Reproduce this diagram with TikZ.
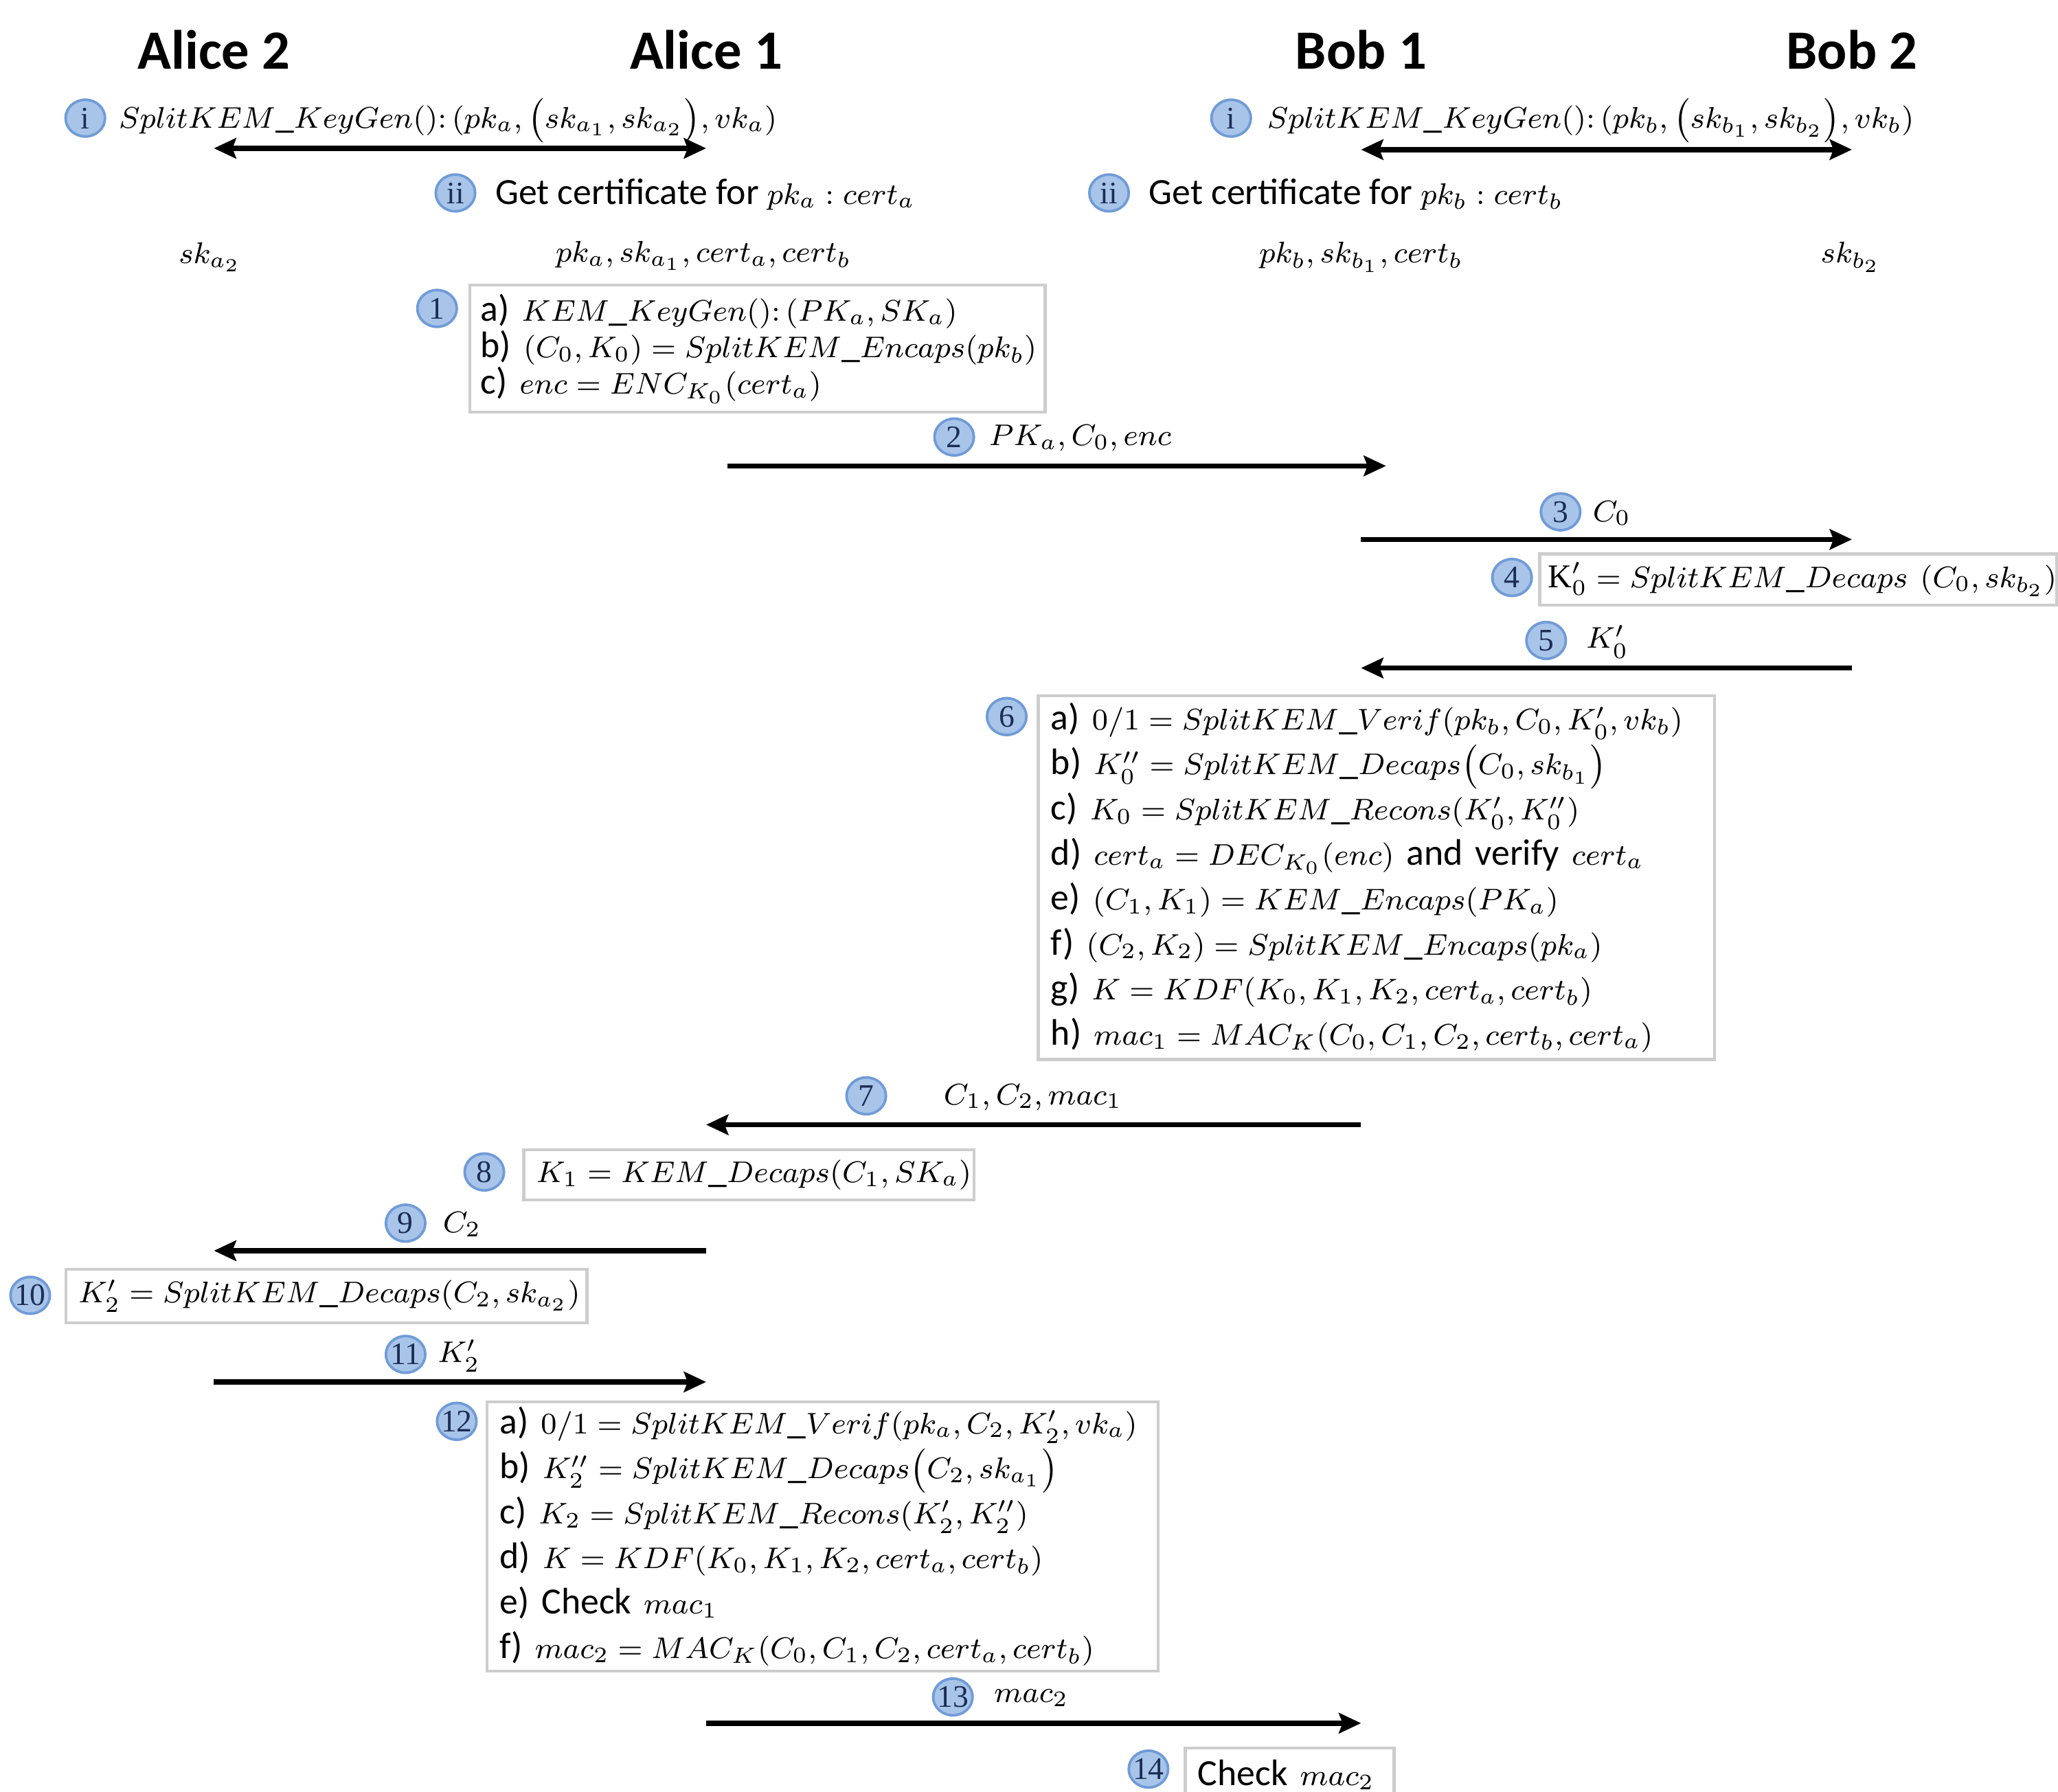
\RequirePackage{fix-cm}
\documentclass[tikz,border=0pt]{standalone}
\usepackage{fontspec}
\setmainfont{Carlito}
\newfontfamily\numfont{Liberation Serif}
\usetikzlibrary{arrows.meta,shapes.geometric}
\setlength{\lineskiplimit}{-6pt}
\relpenalty=10000
\binoppenalty=10000
\DeclareMathSizes{10}{8.1}{6}{5}

\definecolor{badgefill}{RGB}{168,197,233}
\definecolor{badgeline}{RGB}{112,155,215}
\definecolor{badgetext}{RGB}{28,45,85}
\definecolor{boxline}{RGB}{205,205,205}

\tikzset{
  party/.style={font=\fontsize{15}{18}\selectfont\bfseries, inner sep=0pt},
  badge/.style={ellipse, draw=badgeline, fill=badgefill, line width=0.7pt,
    minimum width=0.375cm, minimum height=0.35cm, inner sep=-0.6pt,
    text=badgetext, font=\numfont\fontsize{8.5}{9}\selectfont},
  lbl/.style={anchor=west, inner sep=0pt, font=\fontsize{10}{11}\selectfont},
  stepbox/.style={draw=boxline, line width=0.8pt, anchor=north west, align=left,
    inner xsep=0.12cm, inner ysep=0pt, font=\fontsize{10}{12.2}\selectfont},
  msg/.style={line width=1.4pt, -{Stealth[length=6pt,width=5.5pt,inset=1pt]}},
  both/.style={line width=1.4pt,
    {Stealth[length=6pt,width=5.5pt,inset=1pt]}-{Stealth[length=6pt,width=5.5pt,inset=1pt]}}
}

\begin{document}
\begin{tikzpicture}[x=0.0125cm, y=-0.0125cm]
  \useasboundingbox (0,0) rectangle (1568,1365);

  % Parties
  \node[party] (alice2) at (163,38) {Alice 2};
  \node[party] (alice1) at (538,38) {Alice 1};
  \node[party] (bob1) at (1037,38) {Bob 1};
  \node[party] (bob2) at (1411,38) {Bob 2};

  % Key generation and certificates
  \node[badge] (ia) at (65,90) {i};
  \node[lbl] (kga) at (90,91) {$SplitKEM\_KeyGen()\colon (pk_a, \big(sk_{a_1}, sk_{a_2}\big), vk_a)$};
  \coordinate (kga1) at (163,113);
  \coordinate (kga2) at (538,113);
  \draw[both] (kga1) -- (kga2);
  \node[badge] (ib) at (938,90) {i};
  \node[lbl] (kgb) at (965,91) {$SplitKEM\_KeyGen()\colon (pk_b, \big(sk_{b_1}, sk_{b_2}\big), vk_b)$};
  \coordinate (kgb1) at (1037,114);
  \coordinate (kgb2) at (1411,114);
  \draw[both] (kgb1) -- (kgb2);

  \node[badge] (iia) at (347,147) {ii};
  \node[lbl] (certa) at (377,148) {Get certificate for $pk_a : cert_a$};
  \node[badge] (iib) at (845,147) {ii};
  \node[lbl] (certb) at (875,148) {Get certificate for $pk_b : cert_b$};

  \node[lbl, anchor=center] (keya2) at (160,196) {$sk_{a_2}$};
  \node[lbl, anchor=center] (keya1) at (536,195) {$pk_a, sk_{a_1}, cert_a, cert_b$};
  \node[lbl, anchor=center] (keyb1) at (1037,196) {$pk_b, sk_{b_1}, cert_b$};
  \node[lbl, anchor=center] (keyb2) at (1410,196) {$sk_{b_2}$};

  % Step 1
  \node[badge] (s1) at (333,235) {1};
  \node[stepbox, text width=5.275cm, inner xsep=0.1cm, minimum height=1.2125cm,
    font=\fontsize{10}{9.9}\selectfont] (box1) at (357,216) {
    a)~$KEM\_KeyGen()\colon (PK_a, SK_a)$\\
    b)~$(C_0, K_0) = SplitKEM\_Encaps(pk_b)$\\
    c)~$enc = ENC_{K_0}(cert_a)$};

  % Steps 2 to 5
  \node[badge] (s2) at (727,333) {2};
  \node[lbl] (m2) at (753,334) {$PK_a, C_0, enc$};
  \coordinate (m2a) at (554,355);
  \coordinate (m2b) at (1056,355);
  \draw[msg] (m2a) -- (m2b);

  \node[badge] (s3) at (1189,390) {3};
  \node[lbl] (m3) at (1213,391) {$C_0$};
  \coordinate (m3a) at (1037,411);
  \coordinate (m3b) at (1411,411);
  \draw[msg] (m3a) -- (m3b);

  \node[badge] (s4) at (1152,440) {4};
  \node[stepbox, text width=4.765cm, inner xsep=0.08cm, minimum height=0.4875cm] (box4) at (1172,421)
    {$\mbox{\numfont\fontsize{9}{10}\selectfont K}'_0 = SplitKEM\_Decaps\ (C_0, sk_{b_2})$};

  \node[badge] (s5) at (1178,488) {5};
  \node[lbl] (m5) at (1208,489) {$K'_0$};
  \coordinate (m5a) at (1411,509);
  \coordinate (m5b) at (1037,509);
  \draw[msg] (m5a) -- (m5b);

  % Step 6
  \node[badge] (s6) at (767,546) {6};
  \node[stepbox, text width=6.1975cm, minimum height=3.4625cm] (box6) at (790,529) {
    a)~$0/1 = SplitKEM\_Verif(pk_b, C_0, K'_0, vk_b)$\\
    b)~$K''_0 = SplitKEM\_Decaps\big(C_0, sk_{b_1}\big)$\\
    c)~$K_0 = SplitKEM\_Recons(K'_0, K''_0)$\\
    d)~$cert_a = DEC_{K_0}(enc)$ and verify $cert_a$\\
    e)~$(C_1, K_1) = KEM\_Encaps(PK_a)$\\
    f)~$(C_2, K_2) = SplitKEM\_Encaps(pk_a)$\\
    g)~$K = KDF(K_0, K_1, K_2, cert_a, cert_b)$\\
    h)~$mac_1 = MAC_K(C_0, C_1, C_2, cert_b, cert_a)$};

  % Steps 7 to 11
  \node[badge] (s7) at (660,835) {7};
  \node[lbl, anchor=center] (m7) at (787,836) {$C_1, C_2, mac_1$};
  \coordinate (m7a) at (1037,857);
  \coordinate (m7b) at (538,857);
  \draw[msg] (m7a) -- (m7b);

  \node[badge] (s8) at (369,893) {8};
  \node[stepbox, text width=4.0475cm, minimum height=0.475cm] (box8) at (398,875)
    {$K_1 = KEM\_Decaps(C_1, SK_a)$};

  \node[badge] (s9) at (309,932) {9};
  \node[lbl] (m9) at (337,933) {$C_2$};
  \coordinate (m9a) at (538,953);
  \coordinate (m9b) at (163,953);
  \draw[msg] (m9a) -- (m9b);

  \node[badge] (s10) at (23,987) {10};
  \node[stepbox, text width=4.7225cm, minimum height=0.5125cm] (box10) at (49,966)
    {$K'_2 = SplitKEM\_Decaps(C_2, sk_{a_2})$};

  \node[badge] (s11) at (309,1032) {11};
  \node[lbl] (m11) at (333,1033) {$K'_2$};
  \coordinate (m11a) at (163,1053);
  \coordinate (m11b) at (538,1053);
  \draw[msg] (m11a) -- (m11b);

  % Step 12
  \node[badge] (s12) at (348,1083) {12};
  \node[stepbox, text width=6.1475cm, minimum height=2.5625cm] (box12) at (370,1067) {
    a)~$0/1 = SplitKEM\_Verif(pk_a, C_2, K'_2, vk_a)$\\
    b)~$K''_2 = SplitKEM\_Decaps\big(C_2, sk_{a_1}\big)$\\
    c)~$K_2 = SplitKEM\_Recons(K'_2, K''_2)$\\
    d)~$K = KDF(K_0, K_1, K_2, cert_a, cert_b)$\\
    e)~Check $mac_1$\\
    f)~$mac_2 = MAC_K(C_0, C_1, C_2, cert_a, cert_b)$};

  % Steps 13 and 14
  \node[badge] (s13) at (726,1293) {13};
  \node[lbl] (m13) at (757,1294) {$mac_2$};
  \coordinate (m13a) at (538,1313);
  \coordinate (m13b) at (1037,1313);
  \draw[msg] (m13a) -- (m13b);

  \node[badge] (s14) at (875,1348) {14};
  \node[stepbox, text width=1.7475cm, minimum height=0.5cm] (box14) at (902,1331)
    {Check $mac_2$};
\end{tikzpicture}
\end{document}
